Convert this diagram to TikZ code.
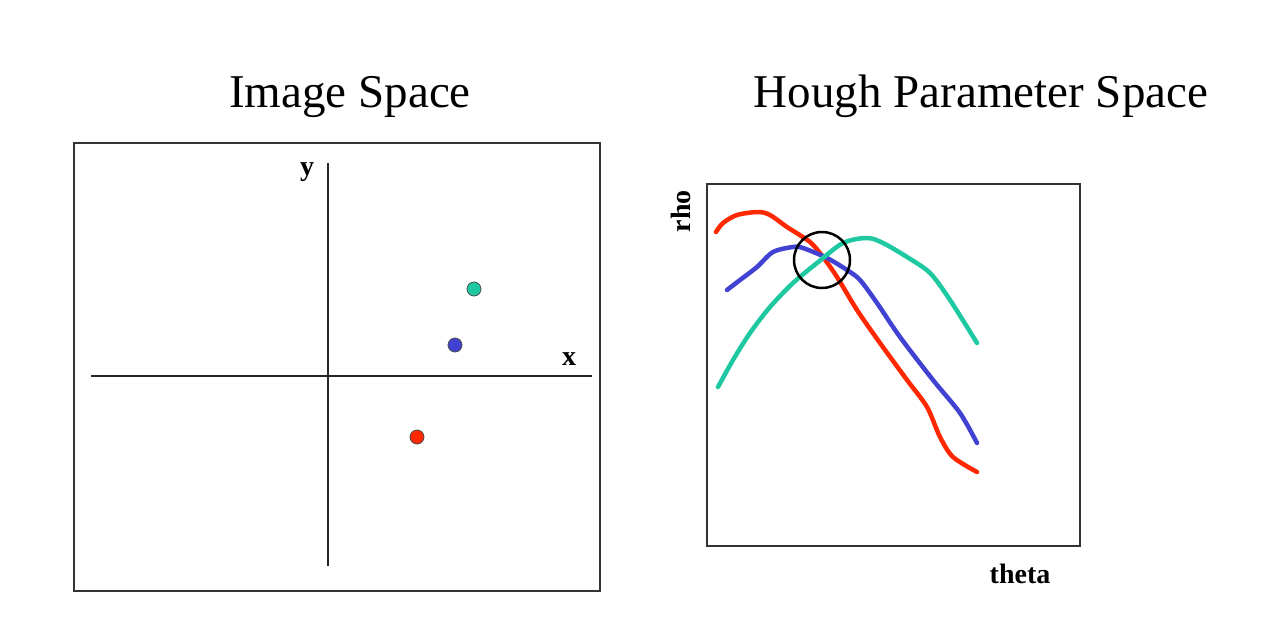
\documentclass[tikz,border=0pt]{standalone}
\usepackage{fontspec}
\setmainfont{Liberation Serif}
\begin{document}
\begin{tikzpicture}[x=1pt,y=-1pt,
  title/.style={font=\fontsize{47}{50}\selectfont, anchor=base, inner sep=0pt},
  axlabel/.style={font=\fontsize{28}{30}\selectfont\bfseries, anchor=base, inner sep=0pt},
  frame/.style={draw=black!80, line width=1.5pt},
  axis/.style={draw=black!85, line width=1.2pt},
  dot/.style={circle, draw=black!70, line width=0.8pt, minimum size=14pt, inner sep=0pt},
  curve/.style={line width=4.5pt, line cap=round, line join=round},
]
\definecolor{cred}{RGB}{255,40,0}
\definecolor{cblue}{RGB}{66,66,210}
\definecolor{cgreen}{RGB}{30,200,160}
\useasboundingbox (0,0) rectangle (1272,616);
\fill[white] (0,0) rectangle (1272,616);

% titles
\node[title] (t1) at (350,107) {Image Space};
\node[title] (t2) at (981,107) {Hough Parameter Space};

% image space
\node[frame, minimum width=526pt, minimum height=448pt, inner sep=0pt] (box1) at (337,367) {};
\coordinate (xl) at (91,376);
\coordinate (xr) at (592,376);
\coordinate (yt) at (328,163);
\coordinate (yb) at (328,566);
\draw[axis] (xl) -- (xr);
\draw[axis] (yt) -- (yb);
\node[axlabel] (ylab) at (307,175) {y};
\node[axlabel] (xlab) at (569,365) {x};
\node[dot, fill=cgreen] (pg) at (474,289) {};
\node[dot, fill=cblue] (pb) at (455,345) {};
\node[dot, fill=cred] (pr) at (417,437) {};

% Hough space
\node[frame, minimum width=373pt, minimum height=362pt, inner sep=0pt] (box2) at (893.5,365) {};
\node[axlabel, anchor=center, rotate=90] (rho) at (681,211) {rho};
\node[axlabel] (theta) at (1020,583) {theta};

\draw[curve, cred] plot[smooth, tension=0.5] coordinates {
 (716,232) (723,223) (737,215) (758,212) (770,215) (787,227) (810,242) (823,257)
 (837,277) (857,310) (880,343) (907,380) (927,407) (940,437) (953,457) (977,472)};
\draw[curve, cblue] plot[smooth, tension=0.5] coordinates {
 (727,290) (740,280) (757,267) (773,252) (793,247) (803,248) (827,258) (847,270)
 (860,280) (877,303) (900,337) (933,380) (960,413) (977,443)};
\draw[curve, cgreen] plot[smooth, tension=0.5] coordinates {
 (718,387) (733,360) (750,333) (770,307) (793,283) (817,263) (843,243) (867,238)
 (883,243) (907,257) (930,273) (950,300) (977,343)};

\node[circle, draw=black, line width=2.5pt, minimum size=56pt, inner sep=0pt] (hit) at (822,260) {};
\end{tikzpicture}
\end{document}
